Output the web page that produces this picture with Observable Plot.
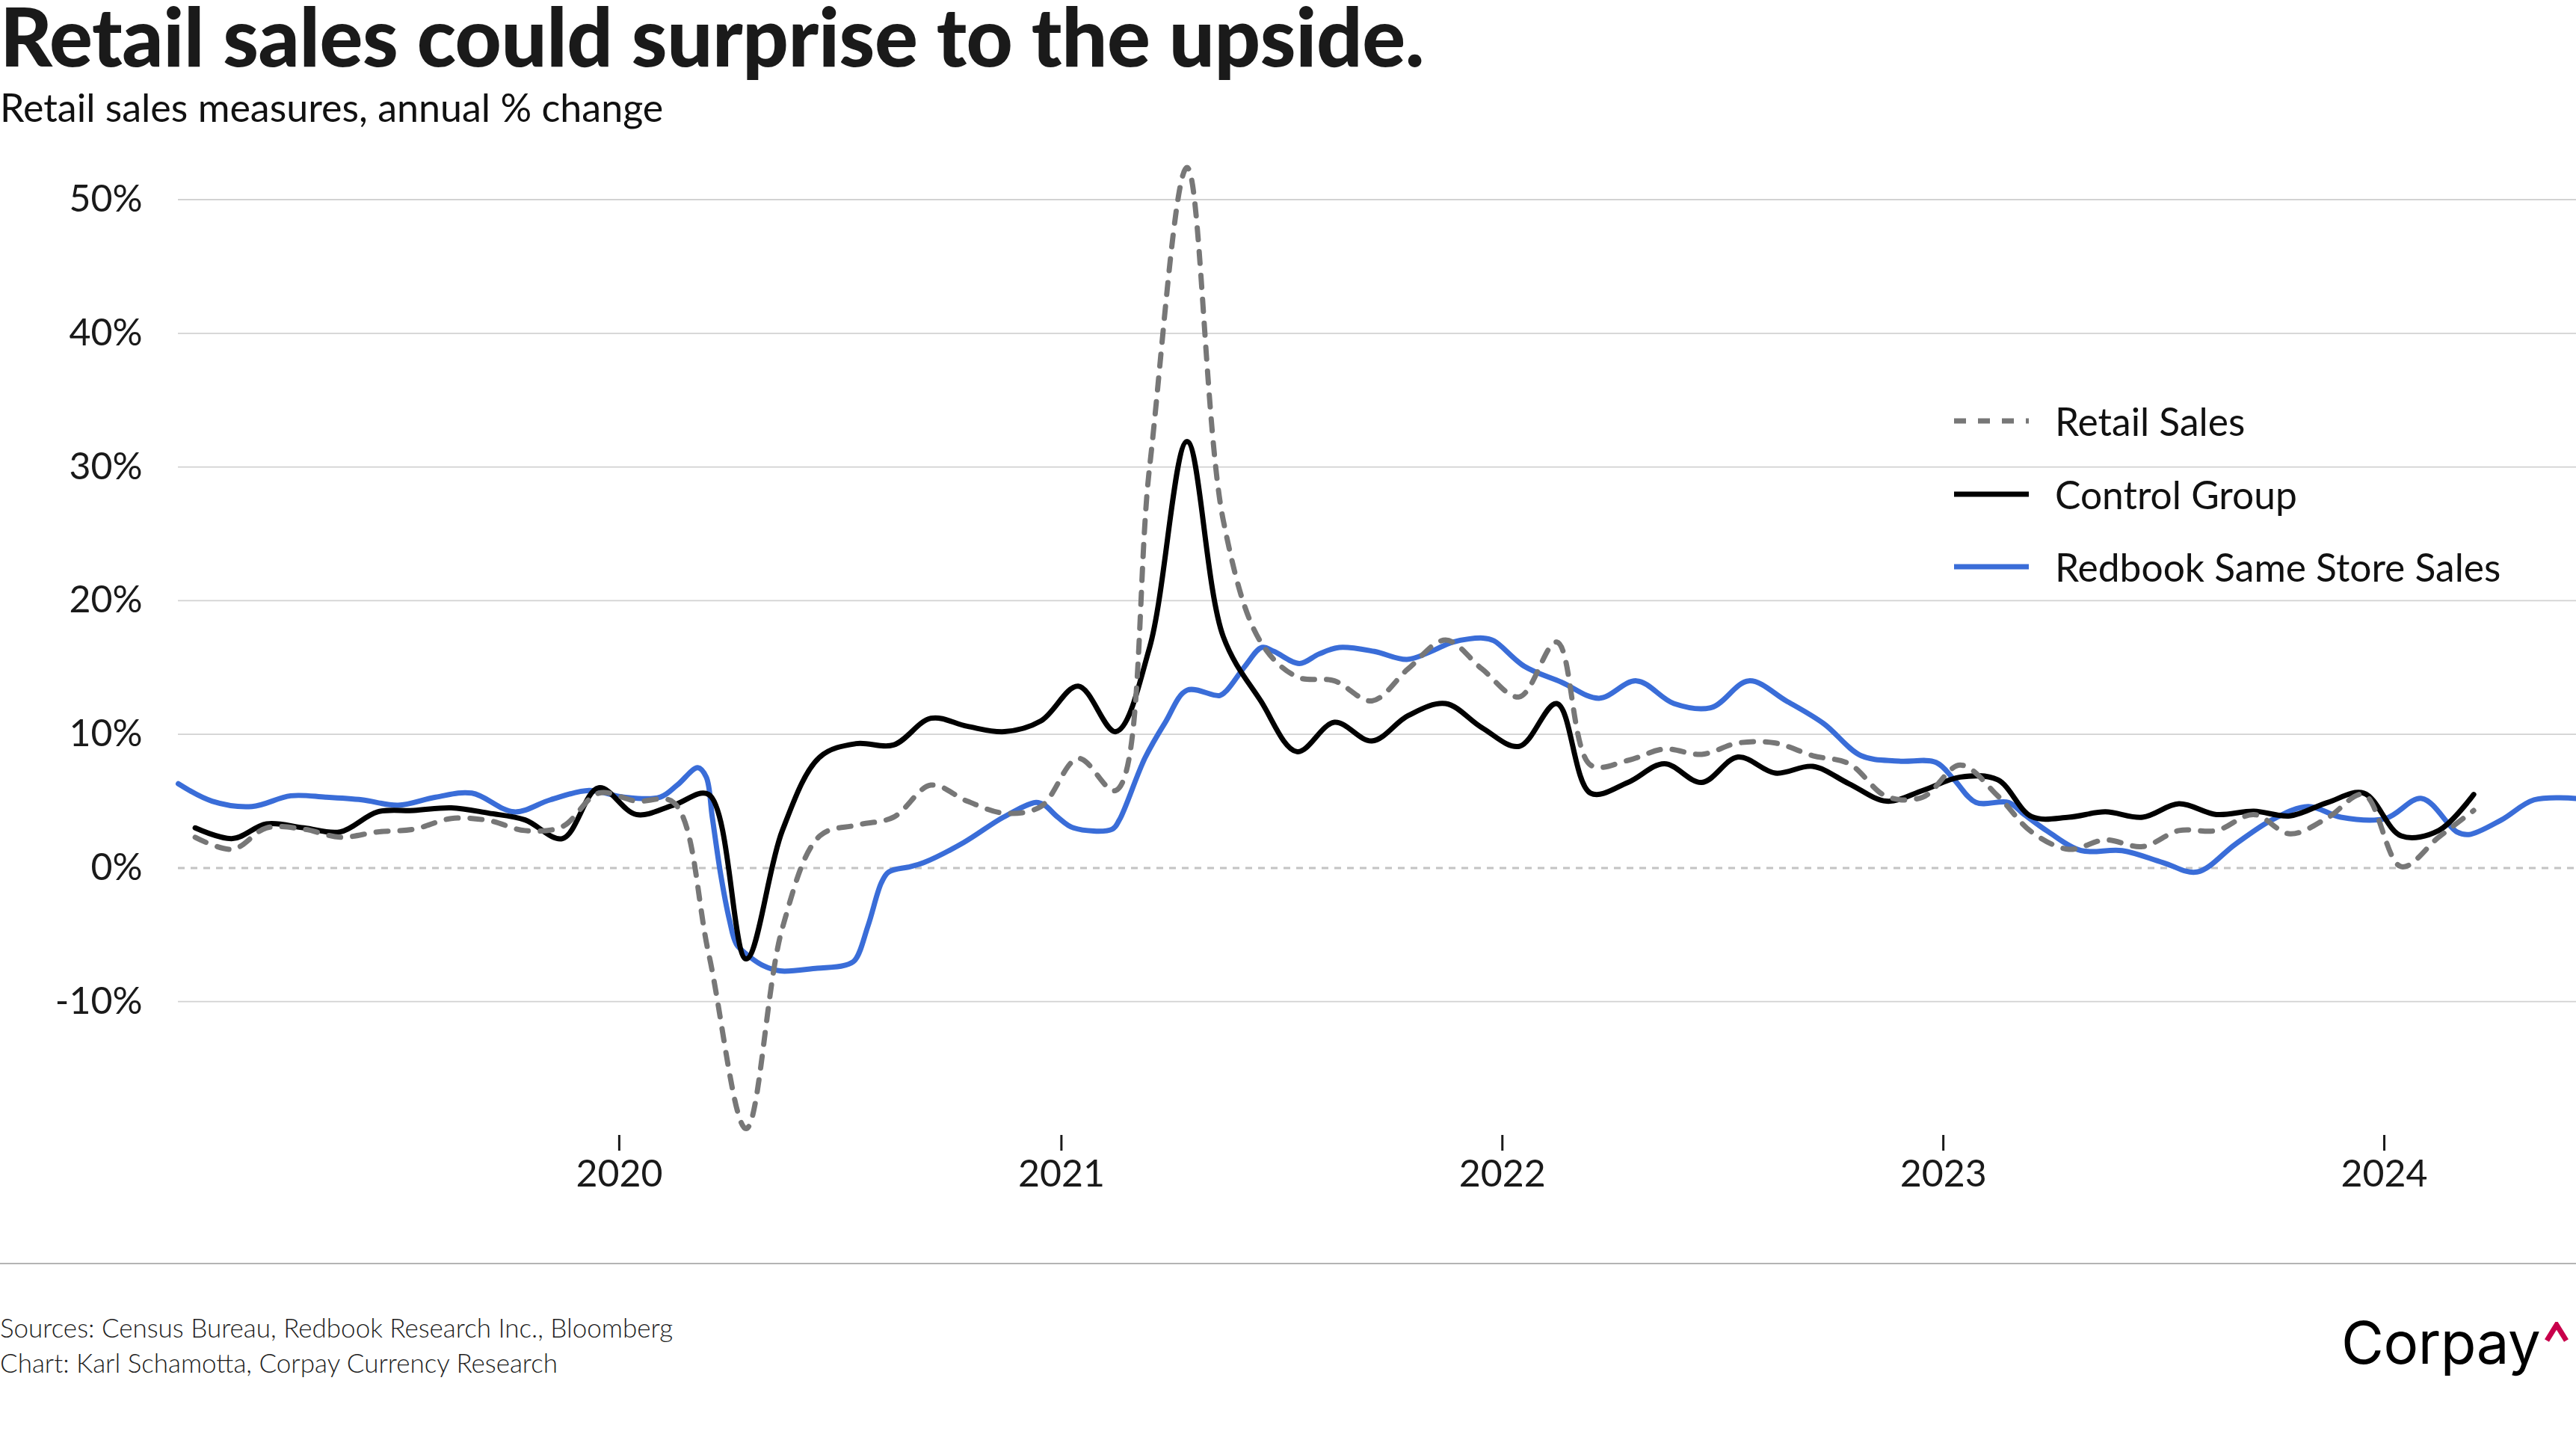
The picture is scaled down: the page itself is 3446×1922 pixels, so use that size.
<!DOCTYPE html>
<html>
<head>
<meta charset="utf-8">
<script src="https://cdn.jsdelivr.net/npm/d3@7"></script>
<script src="https://cdn.jsdelivr.net/npm/@observablehq/plot@0.6"></script>
<style>
  html, body { margin: 0; padding: 0; background: #fff; }
  body { width: 3446px; height: 1922px; position: relative; overflow: hidden; font-family: Lato, "Noto Sans", sans-serif; color: #111; }
  .abs { position: absolute; white-space: nowrap; }
  #title { left: 0; top: 2px; font-size: 108px; font-weight: 900; line-height: 0.85; color: #1a1a1a; letter-spacing: -0.4px; }
  #subtitle { left: 0; top: 117px; font-size: 52px; font-weight: 400; line-height: 1; color: #111; }
  #chart { left: 0; top: 180px; }
  .legrow { position: absolute; left: 2614px; height: 60px; display: flex; align-items: center; }
  .legrow span { margin-left: 35px; font-size: 51.5px; color: #111; }
  #rule { left: 0; top: 1689px; width: 3446px; height: 2px; background: #b4b4b4; }
  #sources { left: 0; top: 1752px; font-size: 35px; font-weight: 300; line-height: 47px; color: #1e1e1e; }
  #logo { left: 3132px; top: 1757px; font-family: Inter, "Liberation Sans", sans-serif; font-size: 78px; font-weight: 400; line-height: 1; color: #000; letter-spacing: -0.5px; }
  #caret { left: 3404px; top: 1768px; }
</style>
</head>
<body>
<div id="title" class="abs">Retail sales could surprise to the upside.</div>
<div id="subtitle" class="abs">Retail sales measures, annual % change</div>
<div id="chart" class="abs"></div>

<div class="legrow" style="top:533px"><svg width="100" height="10"><line x1="0" y1="5" x2="100" y2="5" stroke="#777" stroke-width="7" stroke-dasharray="16,16"/></svg><span>Retail Sales</span></div>
<div class="legrow" style="top:631px"><svg width="100" height="10"><line x1="0" y1="5" x2="100" y2="5" stroke="#000" stroke-width="7"/></svg><span>Control Group</span></div>
<div class="legrow" style="top:728px"><svg width="100" height="10"><line x1="0" y1="5" x2="100" y2="5" stroke="#3a6dd8" stroke-width="7"/></svg><span>Redbook Same Store Sales</span></div>

<div id="rule" class="abs"></div>
<div id="sources" class="abs">Sources: Census Bureau, Redbook Research Inc., Bloomberg<br>Chart: Karl Schamotta, Corpay Currency Research</div>
<div id="logo" class="abs">Corpay</div>
<svg id="caret" class="abs" width="32" height="28"><polyline points="3,25 16,4 29,25" fill="none" stroke="#c8004b" stroke-width="7" stroke-linejoin="miter"/></svg>

<script>
// Monthly series, Jan 2019 – Mar 2024 (annual % change)
const retailSales = [
  2.3, 1.4, 3.0, 2.9, 2.3, 2.7, 2.9, 3.7, 3.55, 2.8, 3.1, 5.6,
  5.0, 4.9, -6.4, -19.5, -4.5, 2.4, 3.2, 3.8, 6.2, 5.0, 4.1, 4.6,
  8.2, 5.8, 30.0, 52.4, 26.0, 16.9, 14.3, 14.0, 12.5, 14.9, 17.05, 14.9,
  12.8, 16.9, 7.7, 8.05, 8.9, 8.5, 9.35, 9.35, 8.4, 7.8, 5.35, 5.3,
  7.7, 5.4, 2.7, 1.4, 2.1, 1.6, 2.8, 2.8, 4.0, 2.55, 3.75, 5.5,
  0.1, 2.3, 4.3
];
const controlGroup = [
  3.0, 2.2, 3.3, 3.0, 2.7, 4.2, 4.3, 4.5, 4.1, 3.6, 2.2, 6.0,
  4.0, 4.7, 5.5, -6.8, 2.8, 8.3, 9.3, 9.2, 11.2, 10.6, 10.2, 11.0,
  13.6, 10.2, 16.5, 31.9, 17.3, 12.5, 8.7, 10.9, 9.5, 11.4, 12.3, 10.5,
  9.1, 12.3, 5.6, 6.4, 7.8, 6.4, 8.3, 7.1, 7.6, 6.3, 5.0, 5.8,
  6.8, 6.6, 3.85, 3.8, 4.2, 3.8, 4.8, 4.0, 4.25, 3.9, 4.9, 5.6,
  2.4, 2.8, 5.5
];

// Weekly Redbook same store sales (sampled readings)
const redbookDates = [
  "2019-01-01","2019-01-29","2019-03-03","2019-04-04","2019-05-03","2019-06-02","2019-07-02","2019-08-02",
  "2019-09-01","2019-10-06","2019-11-05","2019-12-07","2020-01-05","2020-02-04","2020-02-18","2020-03-06",
  "2020-03-13","2020-03-18","2020-03-25","2020-04-01","2020-04-07","2020-04-16","2020-04-29","2020-05-13",
  "2020-06-13","2020-07-05","2020-07-14","2020-07-25","2020-08-05","2020-08-11","2020-08-29","2020-09-09",
  "2020-10-12","2020-11-14","2020-12-11","2020-12-18","2020-12-29","2021-01-11","2021-02-12","2021-02-18",
  "2021-03-11","2021-03-28","2021-04-15","2021-05-12","2021-05-18","2021-06-02","2021-06-16","2021-06-26",
  "2021-07-17","2021-08-02","2021-08-19","2021-09-17","2021-10-14","2021-11-03","2021-11-21","2021-12-16",
  "2021-12-25","2022-01-19","2022-02-19","2022-03-22","2022-04-22","2022-05-23","2022-06-23","2022-07-24",
  "2022-08-24","2022-09-24","2022-10-25","2022-11-25","2022-12-26","2023-01-10","2023-01-28","2023-02-24",
  "2023-03-09","2023-03-29","2023-04-25","2023-05-29","2023-07-02","2023-07-30","2023-08-31","2023-09-30",
  "2023-10-30","2023-11-26","2024-01-02","2024-02-01","2024-03-01","2024-03-11","2024-04-07","2024-05-04",
  "2024-06-08"
];
const redbookValues = [
  6.3, 5.0, 4.6, 5.4, 5.3, 5.1, 4.7, 5.3,
  5.6, 4.2, 5.1, 5.8, 5.3, 5.3, 6.2, 7.5,
  6.8, 3.8, -0.5, -3.8, -5.7, -6.5, -7.3, -7.7,
  -7.5, -7.3, -6.9, -4.3, -1.1, -0.3, 0.1, 0.4,
  1.9, 3.8, 4.9, 4.7, 3.8, 3.0, 2.9, 3.6,
  8.2, 10.9, 13.3, 12.9, 13.3, 15.1, 16.5, 16.2,
  15.3, 16.0, 16.5, 16.2, 15.6, 16.2, 16.9, 17.2,
  17.0, 15.1, 13.9, 12.7, 14.0, 12.3, 12.0, 14.0,
  12.5, 10.8, 8.4, 8.0, 7.9, 6.6, 4.9, 4.9,
  4.0, 2.7, 1.3, 1.3, 0.4, -0.3, 1.8, 3.6,
  4.6, 3.8, 3.7, 5.2, 2.7, 2.5, 3.6, 5.1,
  5.2
];

const yTicks = [50, 40, 30, 20, 10, 0, -10];
const gridValues = [50, 40, 30, 20, 10, -10];
const yearTicks = ["2020-01-01", "2021-01-01", "2022-01-01", "2023-01-01", "2024-01-01"];

const months = d3.utcMonth.range(new Date(Date.UTC(2019, 0, 1)), new Date(Date.UTC(2024, 3, 1)));
const monthly = months.map((m, i) => ({
  date: d3.utcDay.offset(m, 14),
  retail: retailSales[i],
  control: controlGroup[i]
}));
const redbook = redbookDates.map((d, i) => ({ date: new Date(d + "T00:00:00Z"), value: redbookValues[i] }));

const chart = Plot.plot({
  width: 3446,
  height: 1510,
  marginLeft: 238,
  marginRight: 0,
  marginTop: 15,
  marginBottom: 172,
  style: { fontFamily: "Lato, 'Noto Sans', sans-serif", color: "#1a1a1a", background: "transparent", overflow: "visible" },
  x: { type: "utc", domain: [new Date(Date.UTC(2019, 0, 1)), new Date(Date.UTC(2024, 5, 8))] },
  y: { domain: [-20, 54] },
  marks: [
    Plot.ruleY(gridValues, { stroke: "#d2d2d2", strokeWidth: 1.8 }),
    Plot.ruleY([0], { stroke: "#c4c4c4", strokeWidth: 3, strokeDasharray: "9,8" }),
    Plot.axisY({ ticks: yTicks, tickFormat: d => `${d}%`, tickSize: 0, tickPadding: 48, fontSize: 50, label: null }),
    Plot.axisX({ ticks: yearTicks.map(d => new Date(d + "T00:00:00Z")), tickFormat: d3.utcFormat("%Y"), tickSize: 21, tickPadding: 12, fontSize: 50, strokeWidth: 3, label: null }),
    Plot.line(redbook, { x: "date", y: "value", stroke: "#3a6dd8", strokeWidth: 7, curve: "catmull-rom" }),
    Plot.line(monthly, { x: "date", y: "control", stroke: "#000000", strokeWidth: 7, curve: "catmull-rom" }),
    Plot.line(monthly, { x: "date", y: "retail", stroke: "#777777", strokeWidth: 7, strokeDasharray: "16,16", curve: "catmull-rom" })
  ]
});
document.getElementById("chart").appendChild(chart);
</script>
</body>
</html>
